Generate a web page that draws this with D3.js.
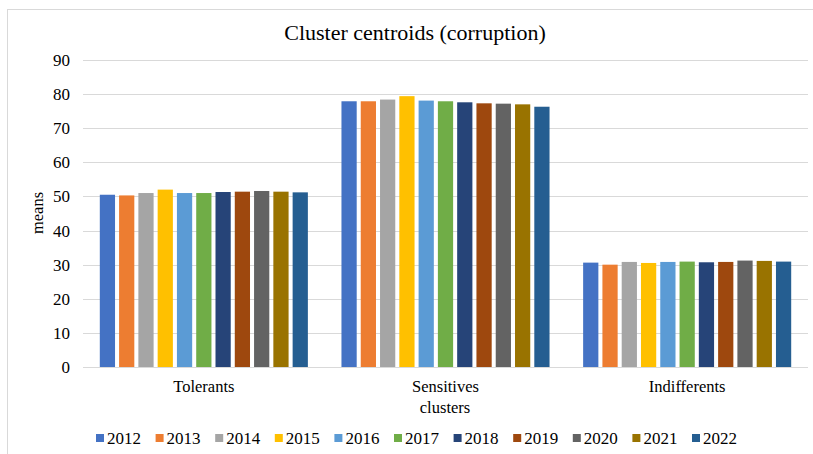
<!DOCTYPE html>
<html>
<head>
<meta charset="utf-8">
<script src="https://cdn.jsdelivr.net/npm/d3@7"></script>
<style>
  body { margin: 0; background: #fff; }
  svg { display: block; font-family: "Liberation Serif", "Times New Roman", serif; }
</style>
</head>
<body>
<div id="chart"></div>
<script>
var clusters = ["Tolerants", "Sensitives", "Indifferents"];
var years = ["2012", "2013", "2014", "2015", "2016", "2017", "2018", "2019", "2020", "2021", "2022"];
var tolerants = [50.5, 50.3, 51.0, 52.0, 51.0, 51.0, 51.3, 51.4, 51.6, 51.4, 51.2];
var sensitives = [77.9, 77.9, 78.4, 79.4, 78.1, 77.9, 77.6, 77.3, 77.2, 77.0, 76.3];
var indifferents = [30.6, 30.0, 30.8, 30.5, 30.8, 30.9, 30.7, 30.8, 31.2, 31.1, 30.9];
var colors = ["#4472C4", "#ED7D31", "#A5A5A5", "#FFC000", "#5B9BD5", "#70AD47",
              "#264478", "#9E480E", "#636363", "#997300", "#255E91"];
var yTicks = [0, 10, 20, 30, 40, 50, 60, 70, 80, 90];

var width = 813;
var height = 454;
var margin = {top: 60, right: 5, bottom: 87, left: 83};

var data = clusters.map(function (c, i) {
    var vals = [tolerants, sensitives, indifferents][i];
    return {cluster: c, values: years.map(function (y, j) {
        return {year: y, value: vals[j]};
    })};
});

var svg = d3.select("#chart")
    .append("svg")
    .attr("width", width)
    .attr("height", height);

// light chart frame
svg.append("rect")
    .attr("x", 7.5)
    .attr("y", 9.5)
    .attr("width", 830)
    .attr("height", 470)
    .attr("fill", "none")
    .attr("stroke", "#d9d9d9");

var x0 = d3.scaleBand()
    .domain(clusters)
    .range([margin.left, width - margin.right]);

var x1 = d3.scaleBand()
    .domain(years)
    .range([16.8, x0.bandwidth() - 16.8])
    .paddingInner(0.21);

var y = d3.scaleLinear()
    .domain([0, 90])
    .range([height - margin.bottom, margin.top]);

// gridlines
svg.append("g")
    .selectAll("line")
    .data(yTicks)
    .enter()
    .append("line")
    .attr("x1", margin.left)
    .attr("x2", width - margin.right)
    .attr("y1", function (d) { return Math.round(y(d)) + 0.5; })
    .attr("y2", function (d) { return Math.round(y(d)) + 0.5; })
    .attr("stroke", "#d9d9d9")
    .attr("stroke-width", 1);

// y tick labels
svg.append("g")
    .selectAll("text")
    .data(yTicks)
    .enter()
    .append("text")
    .attr("x", 70)
    .attr("y", function (d) { return y(d); })
    .attr("dy", "0.35em")
    .attr("text-anchor", "end")
    .attr("font-size", "17px")
    .attr("fill", "#000")
    .text(function (d) { return d; });

// bars
var groups = svg.append("g")
    .selectAll("g")
    .data(data)
    .enter()
    .append("g")
    .attr("transform", function (d) { return "translate(" + x0(d.cluster) + ",0)"; });

groups.selectAll("rect")
    .data(function (d) { return d.values; })
    .enter()
    .append("rect")
    .attr("x", function (d) { return x1(d.year); })
    .attr("y", function (d) { return y(d.value); })
    .attr("width", x1.bandwidth())
    .attr("height", function (d) { return y(0) - y(d.value); })
    .attr("fill", function (d, i) { return colors[i]; });

// category labels
svg.append("g")
    .selectAll("text")
    .data(clusters)
    .enter()
    .append("text")
    .attr("x", function (d) { return x0(d) + x0.bandwidth() / 2; })
    .attr("y", 392)
    .attr("text-anchor", "middle")
    .attr("font-size", "16.5px")
    .attr("fill", "#000")
    .text(function (d) { return d; });

// axis titles
svg.append("text")
    .attr("x", 445)
    .attr("y", 413)
    .attr("text-anchor", "middle")
    .attr("font-size", "16.5px")
    .text("clusters");

svg.append("text")
    .attr("transform", "rotate(-90)")
    .attr("x", -213)
    .attr("y", 43)
    .attr("text-anchor", "middle")
    .attr("font-size", "16.5px")
    .text("means");

// title
svg.append("text")
    .attr("x", 415)
    .attr("y", 40)
    .attr("text-anchor", "middle")
    .attr("font-size", "22px")
    .text("Cluster centroids (corruption)");

// legend
var legend = svg.append("g")
    .selectAll("g")
    .data(years)
    .enter()
    .append("g")
    .attr("transform", function (d, i) { return "translate(" + (96 + i * 59.6) + ",438)"; });

legend.append("rect")
    .attr("x", 0)
    .attr("y", -4)
    .attr("width", 8)
    .attr("height", 8)
    .attr("fill", function (d, i) { return colors[i]; });

legend.append("text")
    .attr("x", 11)
    .attr("y", 0)
    .attr("dy", "0.35em")
    .attr("font-size", "17px")
    .text(function (d) { return d; });
</script>
</body>
</html>
